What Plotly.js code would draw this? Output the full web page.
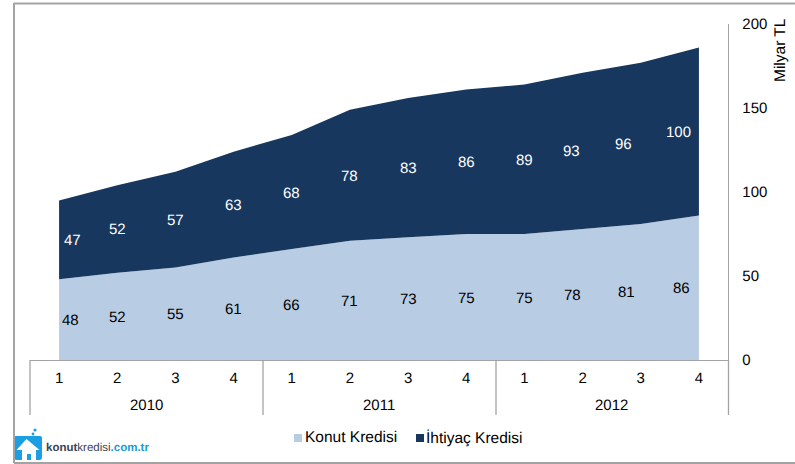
<!DOCTYPE html>
<html>
<head>
<meta charset="utf-8">
<script src="https://cdn.plot.ly/plotly-3.0.1.min.js"></script>
<style>html,body{margin:0;padding:0;background:#fff}#c{width:795px;height:464px}svg text{text-rendering:geometricPrecision}</style>
</head>
<body>
<div id="c"></div>
<script>
const quarters = [1,2,3,4,1,2,3,4,1,2,3,4];
const years = [2010,2011,2012];
const konut = [48,52,55,61,66,71,73,75,75,78,81,86];
const ihtiyac = [47,52,57,63,68,78,83,86,89,93,96,100];
const names = ['Konut Kredisi','İhtiyaç Kredisi'];
const colors = ['#B8CCE4','#17375E'];
const konutShift = [11,0,0,0,0,0,0,0,0,-10,-14,-17];
const ihtiyacShift = [13,0,0,0,0,0,0,0,0,-11,-17,-20];

const W=795,H=464,L=30,R=67,T=24,B=104;
const px=x=>(x-L)/(W-L-R);
const py=y=>(H-B-y)/(H-T-B);
const idx=quarters.map((_,i)=>i);
const FONT='Liberation Sans, Arial, sans-serif';
const GRAY='#a3a3a3';

const traces=[
 {x:idx,y:konut,name:names[0],type:'scatter',mode:'lines',stackgroup:'a',line:{width:0},fillcolor:colors[0],showlegend:false,hoverinfo:'x+y+name'},
 {x:idx,y:ihtiyac,name:names[1],type:'scatter',mode:'lines',stackgroup:'a',line:{width:0},fillcolor:colors[1],showlegend:false,hoverinfo:'x+y+name'}
];

const annotations=[];
const note=(o)=>annotations.push(Object.assign({showarrow:false,font:{family:FONT,size:15,color:'#000'}},o));
idx.forEach(i=>{
 note({x:i,y:konut[i]/2,xref:'x',yref:'y',text:String(konut[i]),xshift:konutShift[i],yshift:-1,font:{family:FONT,size:15,color:'#000'}});
 note({x:i,y:konut[i]+ihtiyac[i]/2,xref:'x',yref:'y',text:String(ihtiyac[i]),xshift:ihtiyacShift[i],yshift:-1,font:{family:FONT,size:15,color:'#fff'}});
});
years.forEach((yr,k)=>note({x:k*4+1.5,y:py(405.5),xref:'x',yref:'paper',text:String(yr),xanchor:'center',yanchor:'middle'}));
note({x:px(781),y:py(50),xref:'paper',yref:'paper',text:'Milyar TL',textangle:-90,xanchor:'center',yanchor:'middle',font:{family:FONT,size:15.5,color:'#000'}});
note({x:px(305),y:py(437.5),xref:'paper',yref:'paper',text:names[0],xanchor:'left',yanchor:'middle',xshift:-2,font:{family:FONT,size:15.5,color:'#000'}});
note({x:px(426),y:py(437.5),xref:'paper',yref:'paper',text:names[1],xanchor:'left',yanchor:'middle',xshift:-2,font:{family:FONT,size:15.5,color:'#000'}});
note({x:px(46),y:py(448),xref:'paper',yref:'paper',xanchor:'left',yanchor:'middle',xshift:-2,
 text:'<b>konut</b>kredisi<b><span style="color:#1c9ad6">.com.tr</span></b>',font:{family:'Liberation Sans, sans-serif',size:11.5,color:'#3b4250'}});

const paperLine=(x0,y0,x1,y1,w,c)=>({type:'line',xref:'paper',yref:'paper',x0:px(x0),y0:py(y0),x1:px(x1),y1:py(y1),line:{color:c||GRAY,width:w||1.3}});
const shapes=[
 paperLine(14,3.5,795,3.5,2),
 paperLine(14,3,14,463,2),
 paperLine(14,463,795,463,2),
 paperLine(30,360,30,415),
 paperLine(263,360,263,415),
 paperLine(496,360,496,415),
 paperLine(728.5,360,728.5,415),
 {type:'rect',xref:'paper',yref:'paper',x0:px(294),x1:px(302),y0:py(434),y1:py(442),line:{width:0},fillcolor:colors[0]},
 {type:'rect',xref:'paper',yref:'paper',x0:px(416),x1:px(424),y0:py(434),y1:py(442),line:{width:0},fillcolor:colors[1]}
];

const icon='<svg xmlns="http://www.w3.org/2000/svg" width="32" height="32" viewBox="0 0 32 32">'+
 '<path fill="#1c9fe2" d="M2.5 8 H26.5 Q28.5 8 28.5 10 V29 Q28.5 32 26 32 H3 Q0.5 32 0.5 29 V10 Q0.5 8 2.5 8Z"/>'+
 '<circle cx="21.5" cy="2" r="1.6" fill="#1c9fe2"/><circle cx="19.5" cy="6" r="1.4" fill="#1c9fe2"/>'+
 '<path fill="#fff" d="M13 11 L26 22 H22.5 V32 H17.5 V26 H13.5 V32 H8.5 V22 H3 Z"/></svg>';

const layout={
 width:W,height:H,margin:{l:L,r:R,t:T,b:B,pad:0},
 paper_bgcolor:'#fff',plot_bgcolor:'#fff',showlegend:false,
 font:{family:FONT,size:15,color:'#000'},
 xaxis:{range:[-0.5,11.5],tickvals:idx,ticktext:quarters.map(String),showgrid:false,zeroline:false,
  showline:true,linecolor:GRAY,linewidth:1.3,ticks:'outside',ticklen:4,tickcolor:'rgba(0,0,0,0)',tickfont:{family:FONT,size:15,color:'#000'},fixedrange:true},
 yaxis:{range:[0,200],side:'right',tickvals:[0,50,100,150,200],showgrid:false,zeroline:false,
  showline:true,linecolor:GRAY,linewidth:1.3,ticks:'outside',ticklen:10,tickcolor:'rgba(0,0,0,0)',tickfont:{family:FONT,size:15,color:'#000'},fixedrange:true},
 annotations,shapes,
 images:[{source:'data:image/svg+xml;utf8,'+encodeURIComponent(icon),xref:'paper',yref:'paper',x:px(13.5),y:py(428),sizex:32/(W-L-R),sizey:32/(H-T-B),xanchor:'left',yanchor:'top',layer:'above',sizing:'stretch'}]
};
Plotly.newPlot('c',traces,layout,{displayModeBar:false,staticPlot:true});
</script>
</body>
</html>
